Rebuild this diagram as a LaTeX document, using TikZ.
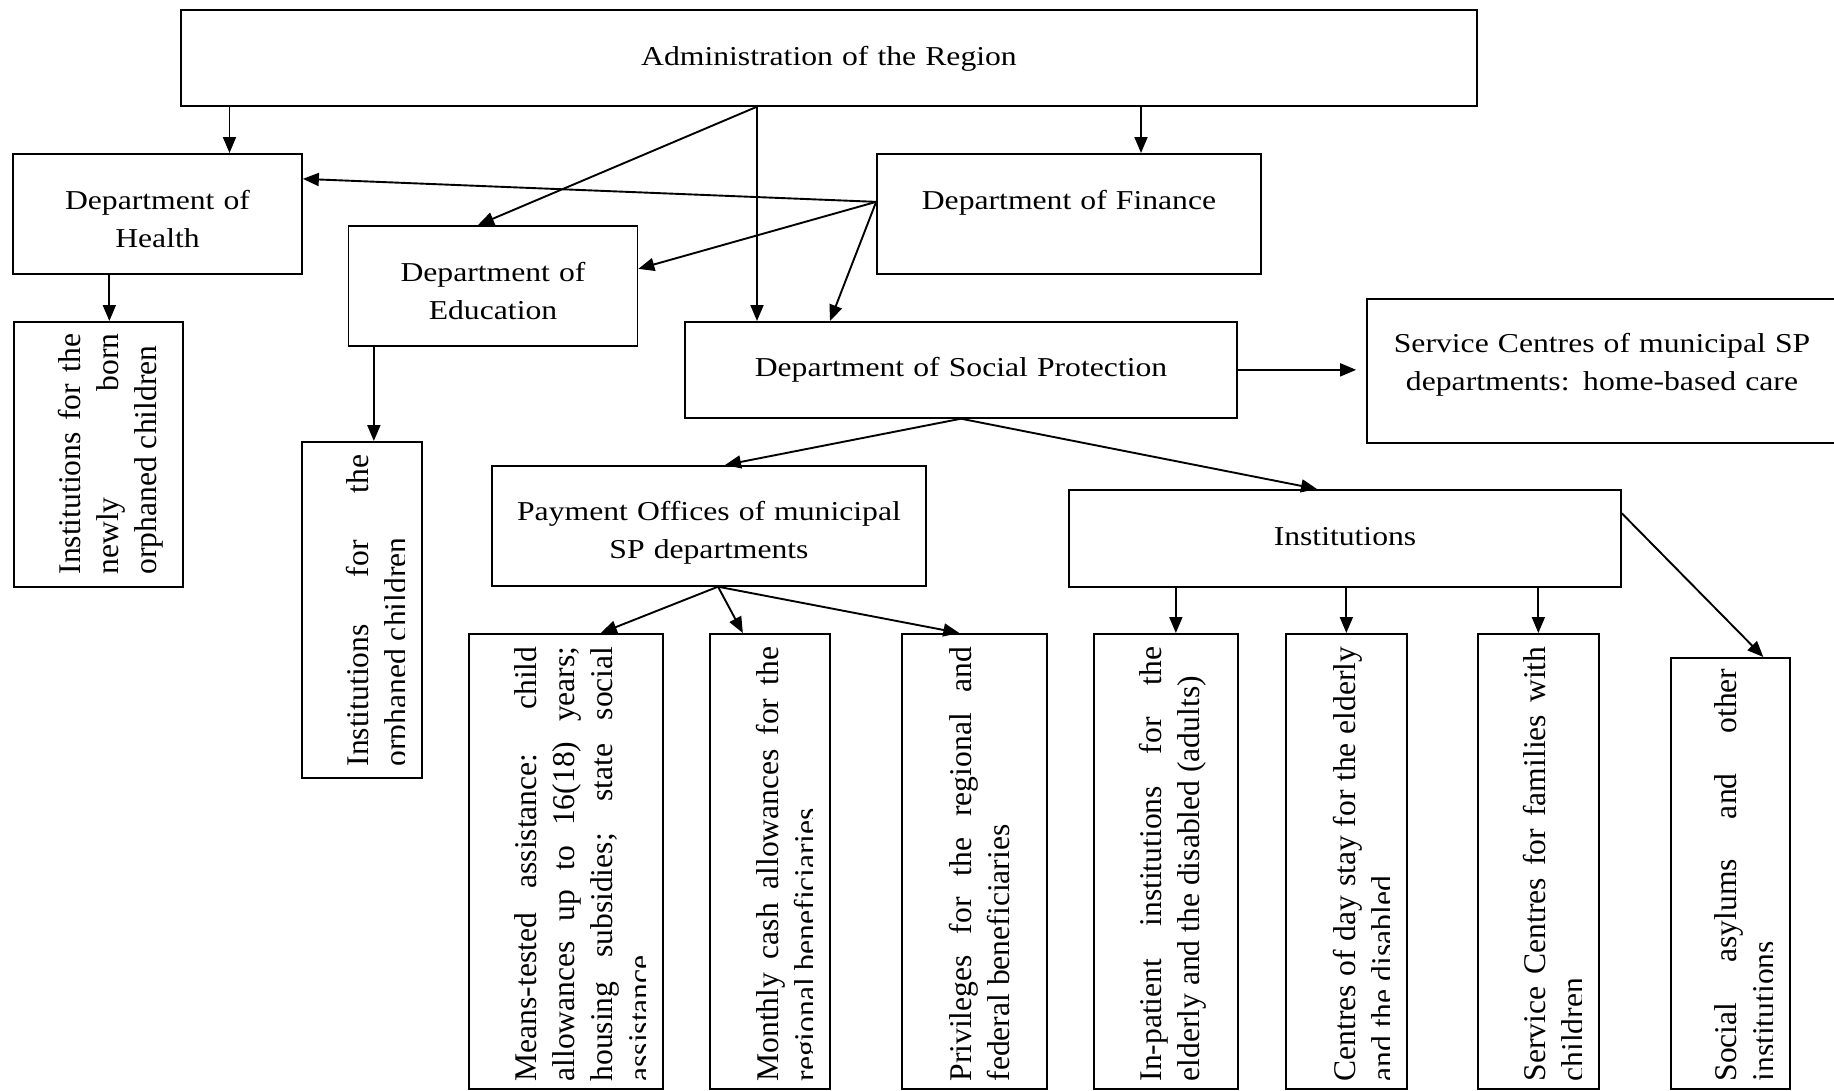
\documentclass[tikz,border=0pt]{standalone}
\usepackage{fontspec}
\setmainfont{Liberation Serif}
\newfontfamily\boxfont{Liberation Serif}[FakeStretch=1.16]
\usetikzlibrary{arrows.meta}

\tikzset{%
  % Specifications for style of nodes:
         base/.style =    { rectangle, draw = black, line width=1.7pt, inner sep=0pt },
         unit/.style =    { base, anchor=north, align=center, font=\boxfont\fontsize{27.3}{37.5}\selectfont },
         tallbox/.style = { base, anchor=north west },
         vtext/.style =   { rotate=90, anchor=base west, inner sep=0pt, align=justify, font=\fontsize{31.6}{38}\selectfont },
         link/.style =    { ->, line width=1.9pt },
}

\begin{document}
\begin{tikzpicture}[x=1pt, y=-1pt, >={Triangle[length=16pt, width=13pt]}]
    \clip (0,0) rectangle (1834,1090);

    % Draw nodes
    \node (admin)    [unit, text width=1296pt, text height=56pt, text depth=40pt] at (829,9)     {Administration of the Region};
    \node (health)   [unit, text width=289pt, text height=56pt, text depth=64pt]  at (157.5,153) {Department of\\Health};
    \node (edu)      [unit, text width=289pt, text height=56pt, text depth=64pt]  at (493,225)   {Department of\\Education};
    \node (finance)  [unit, text width=384pt, text height=56pt, text depth=64pt]  at (1069,153)  {Department of Finance};
    \node (sp)       [unit, text width=552pt, text height=55pt, text depth=41pt]  at (961,321)   {Department of Social Protection};
    \node (homecare) [unit, text width=470pt, text height=54pt, text depth=90pt]  at (1602,298)  {Service Centres of municipal SP\\departments: home-based care};
    \node (payment)  [unit, text width=434pt, text height=55pt, text depth=65pt]  at (709,465)   {Payment Offices of municipal\\SP departments};
    \node (inst)     [unit, text width=552pt, text height=56pt, text depth=41pt]  at (1345,489)  {Institutions};

    \node (newborn)  [tallbox, minimum width=169pt, minimum height=265pt] at (13,321)   {};
    \node (orphan)   [tallbox, minimum width=120pt, minimum height=336pt] at (301,441)  {};
    \node (means)    [tallbox, minimum width=194pt, minimum height=455pt] at (468,633)  {};
    \node (monthly)  [tallbox, minimum width=120pt, minimum height=455pt] at (709,633)  {};
    \node (privil)   [tallbox, minimum width=145pt, minimum height=455pt] at (901,633)  {};
    \node (inpat)    [tallbox, minimum width=144pt, minimum height=455pt] at (1093,633) {};
    \node (dayctr)   [tallbox, minimum width=121pt, minimum height=455pt] at (1285,633) {};
    \node (family)   [tallbox, minimum width=121pt, minimum height=455pt] at (1477,633) {};
    \node (asylum)   [tallbox, minimum width=119pt, minimum height=431pt] at (1670,657) {};

    % Vertical texts, cut at the inner margin of their boxes
    \begin{scope}
      \clip (newborn.north west) rectangle ([xshift=-18pt]newborn.south east);
      \node (newborn_txt) [vtext, text width=241pt] at ([shift={(67pt,13pt)}]newborn.south west) {Institutions for the\linebreak newly born\linebreak orphaned children};
    \end{scope}
    \begin{scope}
      \clip (orphan.north west) rectangle ([xshift=-18pt]orphan.south east);
      \node (orphan_txt) [vtext, text width=312pt] at ([shift={(67pt,12pt)}]orphan.south west) {Institutions for the\linebreak orphaned children};
    \end{scope}
    \begin{scope}
      \clip (means.north west) rectangle ([xshift=-18pt]means.south east);
      \node (means_txt) [vtext, text width=435pt] at ([shift={(68pt,8pt)}]means.south west) {Means-tested assistance: child\linebreak allowances up to 16(18) years;\linebreak housing subsidies; state social\linebreak assistance};
    \end{scope}
    \begin{scope}
      \clip (monthly.north west) rectangle ([xshift=-18pt]monthly.south east);
      \node (monthly_txt) [vtext, text width=435pt] at ([shift={(69pt,8pt)}]monthly.south west) {Monthly cash allowances for the\linebreak regional beneficiaries};
    \end{scope}
    \begin{scope}
      \clip (privil.north west) rectangle ([xshift=-18pt]privil.south east);
      \node (privil_txt) [vtext, text width=435pt] at ([shift={(70pt,8pt)}]privil.south west) {Privileges for the regional and\linebreak federal beneficiaries};
    \end{scope}
    \begin{scope}
      \clip (inpat.north west) rectangle ([xshift=-18pt]inpat.south east);
      \node (inpat_txt) [vtext, text width=435pt] at ([shift={(68pt,8pt)}]inpat.south west) {In-patient institutions for the\linebreak elderly and the disabled (adults)};
    \end{scope}
    \begin{scope}
      \clip (dayctr.north west) rectangle ([xshift=-18pt]dayctr.south east);
      \node (dayctr_txt) [vtext, text width=435pt] at ([shift={(70pt,8pt)}]dayctr.south west) {Centres of day stay for the elderly\linebreak and the disabled};
    \end{scope}
    \begin{scope}
      \clip (family.north west) rectangle ([xshift=-18pt]family.south east);
      \node (family_txt) [vtext, text width=435pt] at ([shift={(68pt,8pt)}]family.south west) {Service Centres for families with\linebreak children};
    \end{scope}
    \begin{scope}
      \clip (asylum.north west) rectangle ([xshift=-18pt]asylum.south east);
      \node (asylum_txt) [vtext, text width=413pt] at ([shift={(66pt,8pt)}]asylum.south west) {Social asylums and other\linebreak institutions};
    \end{scope}

    % Points where the arrows leave or meet the boxes
    \coordinate (hub)     at ([xshift=-72pt]admin.south);
    \coordinate (fin_out) at ([yshift=12pt]finance.west);
    \coordinate (pay_out) at ([xshift=9pt]payment.south);
    \coordinate (h_in)    at ([xshift=72pt]health.north);
    \coordinate (f_in)    at ([xshift=72pt]finance.north);
    \coordinate (nb_in)   at ([xshift=11pt]newborn.north);
    \coordinate (or_in)   at ([xshift=12pt]orphan.north);
    \coordinate (ip_in)   at ([xshift=10pt]inpat.north);

    % Draw arrows
    \draw[link]           (h_in |- admin.south) -- (h_in);
    \draw[link]           (hub) -- ([xshift=-15pt]edu.north);
    \draw[link]           (hub) -- (hub |- sp.north);
    \draw[link]           (f_in |- admin.south) -- (f_in);

    \draw[link]           (fin_out) -- ([yshift=35pt]health.east);
    \draw[link]           (fin_out) -- ([yshift=17pt]edu.east);
    \draw[link]           (fin_out) -- ([xshift=-131pt]sp.north);

    \draw[link]           (nb_in |- health.south) -- (nb_in);
    \draw[link]           (or_in |- edu.south) -- (or_in);

    \draw[link, shorten >=10pt] (sp.east) -- (sp.east -| homecare.west);
    \draw[link]           (sp.south) -- ([xshift=16pt]payment.north);
    \draw[link]           (sp.south) -- ([xshift=-28pt]inst.north);

    \draw[link]           (pay_out) -- ([xshift=35pt]means.north);
    \draw[link]           (pay_out) -- ([xshift=-27pt]monthly.north);
    \draw[link]           (pay_out) -- ([xshift=-15pt]privil.north);

    \draw[link]           (ip_in |- inst.south) -- (ip_in);
    \draw[link]           (inst.south -| dayctr.north) -- (dayctr.north);
    \draw[link]           (inst.south -| family.north) -- (family.north);
    \draw[link]           ([yshift=25pt]inst.east) -- ([xshift=33pt]asylum.north);
\end{tikzpicture}
\end{document}
